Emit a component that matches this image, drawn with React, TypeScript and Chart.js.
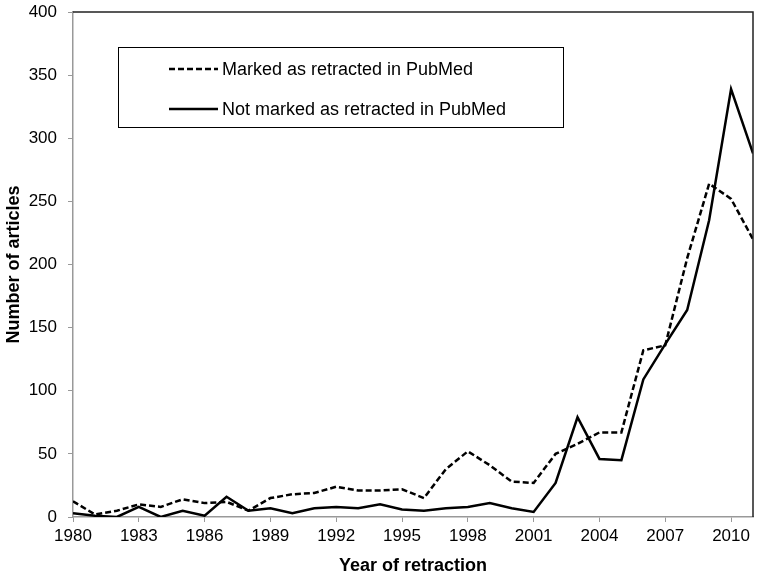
import React, { useEffect, useRef } from "react";
import { Chart, registerables } from "chart.js";

Chart.register(...registerables);

const years: number[] = [
  1980, 1981, 1982, 1983, 1984, 1985, 1986, 1987, 1988, 1989,
  1990, 1991, 1992, 1993, 1994, 1995, 1996, 1997, 1998, 1999,
  2000, 2001, 2002, 2003, 2004, 2005, 2006, 2007, 2008, 2009,
  2010, 2011,
];

const markedRetracted: number[] = [
  12.5, 2, 5, 10, 8, 14, 11, 12, 5, 15,
  18, 19, 24, 21, 21, 22, 15, 38, 52, 41,
  28, 27, 50, 58, 67, 67, 132, 136, 205, 264,
  252, 220,
];

const notMarkedRetracted: number[] = [
  3, 1, 0, 8, 0, 5, 1, 16, 5, 7,
  3, 7, 8, 7, 10, 6, 5, 7, 8, 11,
  7, 4, 27, 79, 46, 45, 109, 137, 164, 235,
  339, 288,
];

const xTickYears: number[] = [1980, 1983, 1986, 1989, 1992, 1995, 1998, 2001, 2004, 2007, 2010];

const seriesLabels: string[] = [
  "Marked as retracted in PubMed",
  "Not marked as retracted in PubMed",
];

const FONT = "'Liberation Sans', Arial, sans-serif";

const frameAndLegend = {
  id: "frameAndLegend",
  afterDatasetsDraw(chart: any) {
    const { ctx, chartArea } = chart;
    const { left, right, top, bottom } = chartArea;
    ctx.save();
    // top and right frame
    ctx.strokeStyle = "#222";
    ctx.lineWidth = 1.5;
    ctx.setLineDash([]);
    ctx.beginPath();
    ctx.moveTo(left, top);
    ctx.lineTo(right, top);
    ctx.lineTo(right, bottom);
    ctx.stroke();

    // legend box
    const bx = left + 45;
    const by = top + 35;
    const bw = 445;
    const bh = 80;
    ctx.fillStyle = "#fff";
    ctx.fillRect(bx, by, bw, bh);
    ctx.strokeStyle = "#000";
    ctx.lineWidth = 1;
    ctx.strokeRect(bx + 0.5, by + 0.5, bw, bh);

    const rows = [
      { y: by + 22, dash: [6, 3], label: seriesLabels[0] },
      { y: by + 62, dash: [], label: seriesLabels[1] },
    ];
    ctx.font = `18px ${FONT}`;
    ctx.textBaseline = "middle";
    ctx.textAlign = "left";
    for (const r of rows) {
      ctx.strokeStyle = "#000";
      ctx.lineWidth = 2.5;
      ctx.setLineDash(r.dash);
      ctx.beginPath();
      ctx.moveTo(bx + 51, r.y);
      ctx.lineTo(bx + 100, r.y);
      ctx.stroke();
      ctx.setLineDash([]);
      ctx.fillStyle = "#000";
      ctx.fillText(r.label, bx + 104, r.y + 1);
    }
    ctx.restore();
  },
};

export default function App() {
  const canvasRef = useRef<HTMLCanvasElement | null>(null);

  useEffect(() => {
    if (!canvasRef.current) return;
    const chart = new Chart(canvasRef.current, {
      type: "line",
      data: {
        datasets: [
          {
            label: seriesLabels[0],
            data: years.map((y, i) => ({ x: y, y: markedRetracted[i] })),
            borderColor: "#000",
            borderWidth: 2.5,
            borderDash: [6, 3],
            pointRadius: 0,
            tension: 0,
            fill: false,
          },
          {
            label: seriesLabels[1],
            data: years.map((y, i) => ({ x: y, y: notMarkedRetracted[i] })),
            borderColor: "#000",
            borderWidth: 2.5,
            pointRadius: 0,
            tension: 0,
            fill: false,
          },
        ],
      },
      options: {
        responsive: false,
        animation: false,
        layout: { padding: { left: 0, right: 7, top: 12, bottom: 0 } },
        plugins: {
          legend: { display: false },
          tooltip: { enabled: false },
        },
        scales: {
          x: {
            type: "linear",
            min: 1980,
            max: 2011,
            afterBuildTicks: (scale: any) => {
              scale.ticks = xTickYears.map((v) => ({ value: v }));
            },
            afterFit: (scale: any) => {
              scale.height = 60;
              scale.paddingLeft = 0;
              scale.paddingRight = 0;
            },
            grid: {
              display: true,
              drawOnChartArea: false,
              drawTicks: true,
              tickLength: 5,
              color: "#999",
            },
            border: { display: true, color: "#999", width: 1.5 },
            ticks: {
              color: "#000",
              font: { family: FONT, size: 17 },
              padding: 4,
              maxRotation: 0,
              autoSkip: false,
              callback: (v: any) => String(v),
            },
            title: {
              display: true,
              text: "Year of retraction",
              color: "#000",
              font: { family: FONT, size: 18, weight: "bold" },
              padding: { top: 4, bottom: 0 },
            },
          },
          y: {
            type: "linear",
            min: 0,
            max: 400,
            afterFit: (scale: any) => {
              scale.width = 73;
              scale.paddingTop = 0;
              scale.paddingBottom = 0;
            },
            grid: {
              display: true,
              drawOnChartArea: false,
              drawTicks: true,
              tickLength: 5,
              color: "#999",
            },
            border: { display: true, color: "#999", width: 1.5 },
            ticks: {
              stepSize: 50,
              color: "#000",
              font: { family: FONT, size: 17 },
              padding: 11,
            },
            title: {
              display: true,
              text: "Number of articles",
              color: "#000",
              font: { family: FONT, size: 18, weight: "bold" },
              padding: { top: 3, bottom: 4 },
            },
          },
        },
      },
      plugins: [frameAndLegend],
    } as any);
    return () => chart.destroy();
  }, []);

  return (
    <div style={{ position: "fixed", left: 0, top: 0, width: 760, height: 577, background: "#fff" }}>
      <canvas ref={canvasRef} width={760} height={577} style={{ display: "block" }} />
    </div>
  );
}
